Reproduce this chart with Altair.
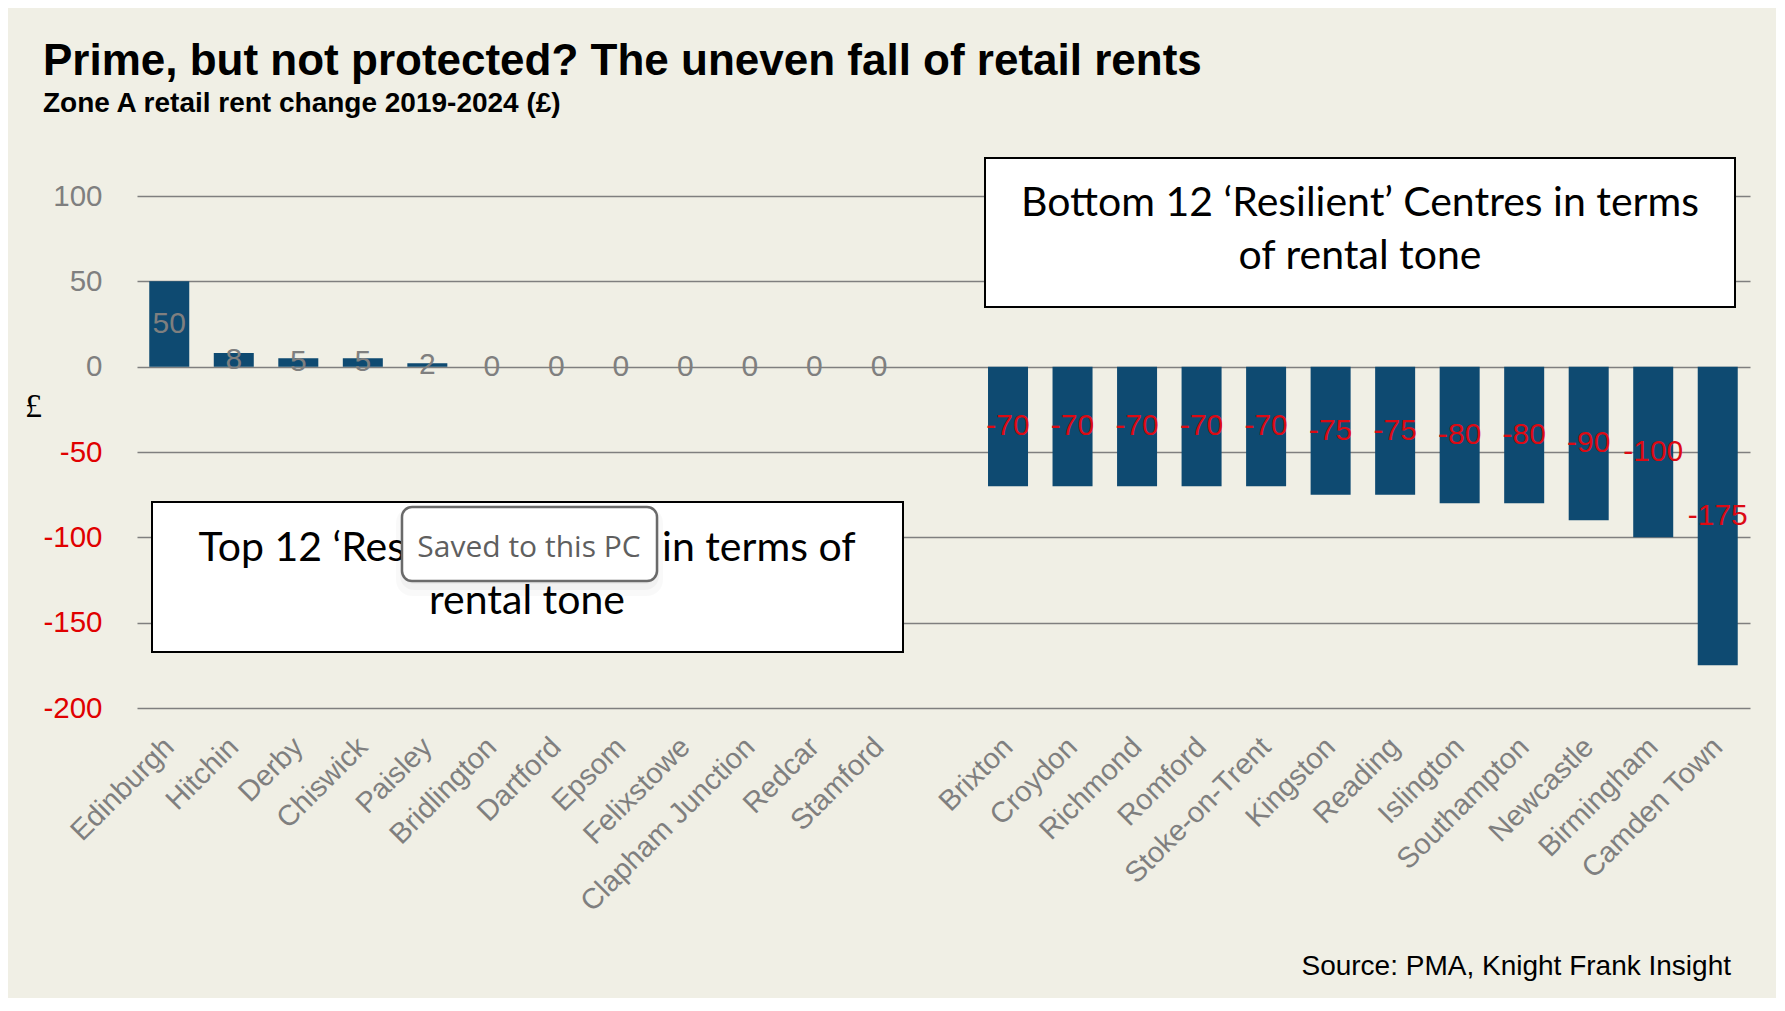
import altair as alt
import pandas as pd

# ---------------- data ----------------
top_names = ["Edinburgh", "Hitchin", "Derby", "Chiswick", "Paisley", "Bridlington",
             "Dartford", "Epsom", "Felixstowe", "Clapham Junction", "Redcar", "Stamford"]
top_values = [50, 8, 5, 5, 2, 0, 0, 0, 0, 0, 0, 0]
bottom_names = ["Brixton", "Croydon", "Richmond", "Romford", "Stoke-on-Trent", "Kingston",
                "Reading", "Islington", "Southampton", "Newcastle", "Birmingham", "Camden Town"]
bottom_values = [-70, -70, -70, -70, -70, -75, -75, -80, -80, -90, -100, -175]
gap = " "
y_ticks = [-200, -150, -100, -50, 0, 50, 100]

title_text = "Prime, but not protected? The uneven fall of retail rents"
subtitle_text = "Zone A retail rent change 2019-2024 (£)"
source_text = "Source: PMA, Knight Frank Insight"
box_bottom_lines = ["Bottom 12 \u2018Resilient\u2019 Centres in terms", "of rental tone"]
box_top_lines = ["Top 12 \u2018Resilient\u2019 Centres in terms of", "rental tone"]
toast_text = "Saved to this PC"

df = pd.DataFrame({"centre": top_names + bottom_names, "value": top_values + bottom_values})
domain = top_names + [gap] + bottom_names

# ---------------- style ----------------
BG = "#f0efe5"
BAR = "#0e4a71"
GREY = "#7f7f7f"
RED = "#e00000"
LABEL_RED = "#dc0a14"
SANS = "Liberation Sans, Arial, sans-serif"
BOX_FONT = "Lato, Carlito, sans-serif"
W, H = 1613, 512

x_scale = alt.Scale(domain=domain, paddingInner=0.38, paddingOuter=0.19)
x_enc = alt.X(
    "centre:N", sort=None, scale=x_scale,
    axis=alt.Axis(title=None, labelAngle=-45, labelAlign="right", labelBaseline="middle",
                  labelFontSize=29, labelFont=SANS, labelColor=GREY, ticks=False,
                  domain=False, labelPadding=34, labelLimit=500, grid=False),
)
y_scale = alt.Scale(domain=[-200, 100], nice=False, zero=False)

bars = alt.Chart(df).mark_bar(color=BAR).encode(
    x=x_enc,
    y=alt.Y("value:Q", scale=y_scale,
            axis=alt.Axis(values=y_ticks, title="£", titleAngle=0, titleX=-104, titleY=210,
                          titleFont="Liberation Serif, DejaVu Serif, serif", titleFontSize=34,
                          titleFontWeight="normal", titleColor="black", titleAlign="center",
                          titleBaseline="middle", labelFontSize=29.5, labelFont=SANS,
                          labelExpr="datum.value + ''",
                          labelColor=alt.expr(f"datum.value < 0 ? '{RED}' : '{GREY}'"),
                          labelPadding=35, ticks=False, domain=False, grid=True,
                          gridColor=GREY, gridWidth=1.3)),
)

bar_labels = alt.Chart(df).transform_calculate(
    mid="datum.value / 2", lbl="datum.value + ''"
).mark_text(
    font=SANS, fontSize=30, align="center", baseline="middle"
).encode(
    x=alt.X("centre:N", sort=None, scale=x_scale),
    y=alt.Y("mid:Q", scale=y_scale),
    text=alt.Text("lbl:N"),
    color=alt.condition("datum.value < 0", alt.value(LABEL_RED), alt.value(GREY)),
)


def one():
    return pd.DataFrame({"k": [0]})


def box(x1, x2, y1, y2, **kw):
    return alt.Chart(one()).mark_rect(**kw).encode(
        x=alt.value(x1), x2=alt.value(x2), y=alt.value(y1), y2=alt.value(y2))


def label(text, x, y, size, font=SANS, color="black", weight="normal", align="left",
          baseline="alphabetic"):
    return alt.Chart(pd.DataFrame({"t": [text]})).mark_text(
        font=font, fontSize=size, color=color, fontWeight=weight, align=align, baseline=baseline
    ).encode(text="t:N", x=alt.value(x), y=alt.value(y))


layers = [
    bars,
    bar_labels,
    # annotation box for bottom 12
    box(848, 1598, -38, 111, fill="white", stroke="black", strokeWidth=2),
    label(box_bottom_lines[0], 1223, 20, 41, font=BOX_FONT, align="center"),
    label(box_bottom_lines[1], 1223, 73, 41, font=BOX_FONT, align="center"),
    # annotation box for top 12
    box(15, 766, 306, 456, fill="white", stroke="black", strokeWidth=2),
    label(box_top_lines[0], 390, 365, 41, font=BOX_FONT, align="center"),
    label(box_top_lines[1], 390, 418, 41, font=BOX_FONT, align="center"),
    # "Saved to this PC" toast with soft shadow
    box(259, 526, 311, 400, fill="black", opacity=0.025, cornerRadius=16),
    box(263, 522, 311, 394, fill="black", opacity=0.03, cornerRadius=14),
    box(265, 520, 311, 388, fill="black", opacity=0.035, cornerRadius=12),
    box(265, 520, 311, 385, fill="white", stroke="#6a6a6a", strokeWidth=2.5, cornerRadius=10),
    label(toast_text, 392, 361, 30, font="Open Sans, Noto Sans, sans-serif", color="#5f5f5f",
          align="center"),
    # titles & source
    label(title_text, -94, -121, 44, weight="bold"),
    label(subtitle_text, -94, -84, 28, weight="bold"),
    label(source_text, 1594, 779, 28, align="right"),
]

chart = alt.layer(*layers).properties(
    width=W, height=H,
    autosize=alt.AutoSizeParams(type="none"),
    padding={"left": 129, "top": 188, "right": 26, "bottom": 290},
    background=BG,
).configure_view(stroke=None)

chart.save("out.html", embed_options={"renderer": "svg", "actions": False})
